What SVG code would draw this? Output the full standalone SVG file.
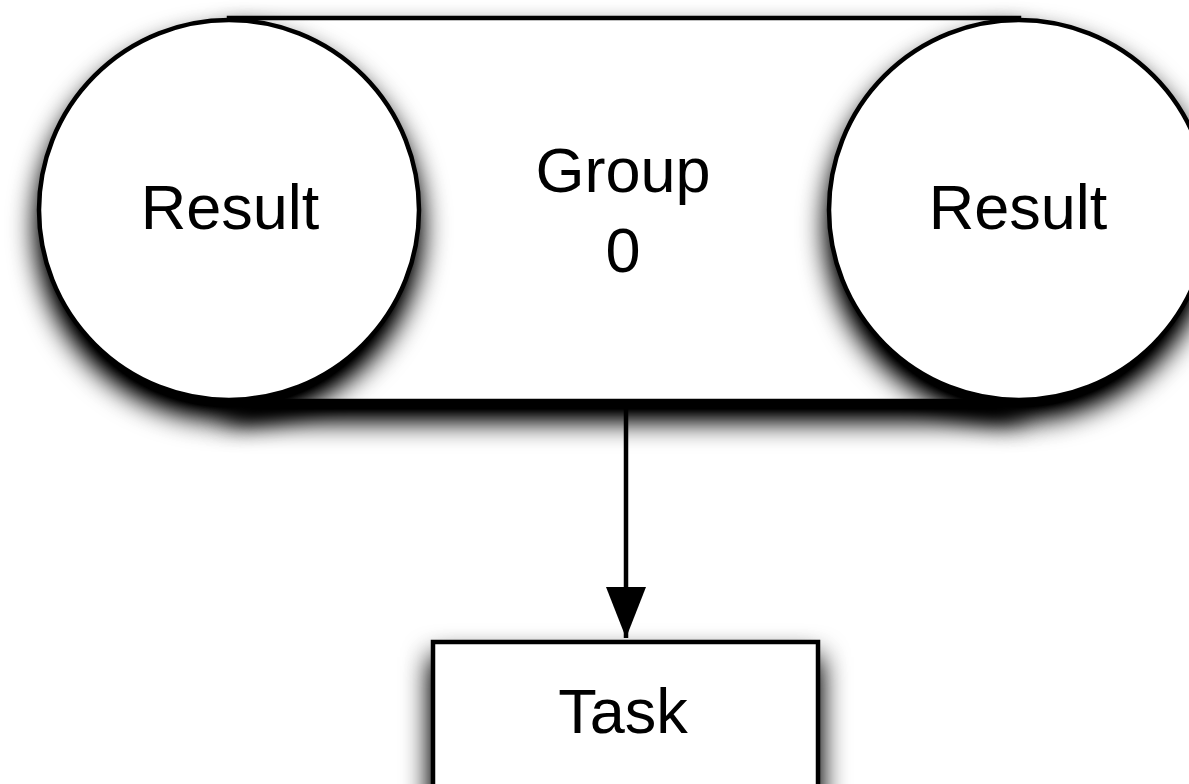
<svg xmlns="http://www.w3.org/2000/svg" width="1189" height="784" viewBox="0 0 1189 784">
  <defs>
    <filter id="shadow" x="-25%" y="-25%" width="150%" height="170%">
      <feGaussianBlur in="SourceAlpha" stdDeviation="14"/>
      <feOffset dx="0" dy="17" result="blur"/>
      <feComponentTransfer in="blur" result="shade">
        <feFuncA type="linear" slope="1.25"/>
      </feComponentTransfer>
      <feMerge>
        <feMergeNode in="shade"/>
        <feMergeNode in="SourceGraphic"/>
      </feMerge>
    </filter>
    <marker id="arrow" markerUnits="userSpaceOnUse" markerWidth="52" markerHeight="40" refX="51" refY="20" orient="auto" viewBox="0 0 52 40">
      <path d="M0,0 L51,20 L0,40 Z" fill="#000"/>
    </marker>
    <style>
      .shape { fill: #fff; stroke: #000; stroke-width: 4.5; filter: url(#shadow); }
      .label { font-family: "Liberation Sans", Arial, sans-serif; font-size: 63px; fill: #000; text-anchor: middle; }
      .edge { fill: none; stroke: #000; stroke-width: 4.5; }
    </style>
  </defs>

  <!-- group container with its two result ends -->
  <g id="group0">
    <rect class="shape" x="229" y="18" width="790" height="383"/>
    <text class="label" x="623" y="192">Group</text>
    <text class="label" x="623" y="272">0</text>
  </g>
  <g id="result-left">
    <circle class="shape" cx="229" cy="210" r="190"/>
    <text class="label" x="230" y="229">Result</text>
  </g>
  <g id="result-right">
    <circle class="shape" cx="1019" cy="210" r="190"/>
    <text class="label" x="1018" y="229">Result</text>
  </g>

  <g id="task">
    <rect class="shape" x="433" y="642" width="385" height="180"/>
    <text class="label" x="623" y="733">Task</text>
  </g>

  <g id="connectors">
    <line class="edge" x1="626" y1="401" x2="626" y2="638" marker-end="url(#arrow)"/>
  </g>
</svg>
